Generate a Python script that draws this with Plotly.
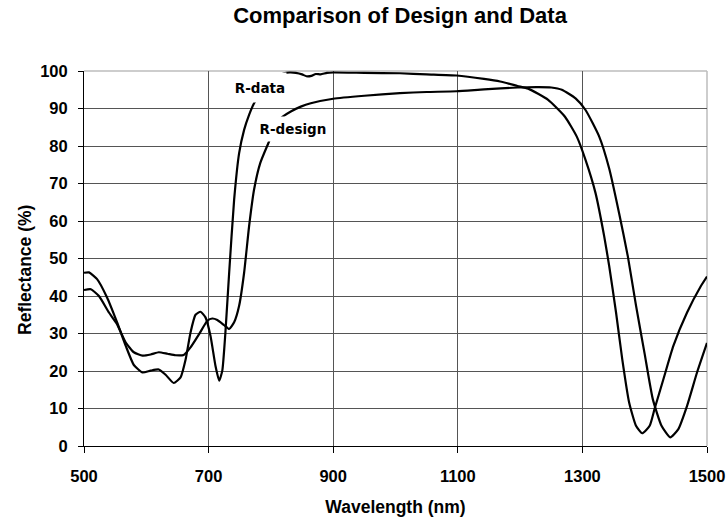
import plotly.graph_objects as go

# ---- data ----
data_wl = [500, 508, 521, 537, 553, 567, 580, 594, 607, 620, 631, 644, 655, 663, 671, 679, 687,
           695, 703, 711, 717, 722, 727, 733, 741, 749, 757, 765, 773, 790, 805, 821, 830, 840,
           850, 857, 865, 872, 880, 890, 900, 950, 1007, 1050, 1098, 1142, 1168, 1196, 1213,
           1245, 1272, 1291, 1305, 1321, 1335, 1343, 1354, 1364, 1375, 1386, 1396, 1408, 1416,
           1430, 1446, 1468, 1490, 1500]
data_r = [46.2, 46.3, 44.5, 39.6, 33.0, 26.7, 21.6, 19.6, 20.1, 20.4, 19.0, 16.8, 18.3, 23.0,
          30.3, 35.0, 35.8, 34.3, 29.4, 21.4, 17.4, 20.1, 30.3, 46.2, 65.7, 78.1, 84.3, 88.3,
          91.4, 95.5, 98.0, 99.4, 99.6, 99.5, 99.1, 98.6, 98.7, 99.2, 99.1, 99.5, 99.6, 99.5,
          99.4, 99.1, 98.8, 97.9, 97.2, 96.0, 95.3, 92.3, 87.8, 82.5, 76.3, 67.5, 55.9, 48.0,
          35.6, 23.1, 11.6, 5.4, 3.4, 5.4, 10.0, 17.8, 26.7, 35.6, 42.6, 45.2]

design_wl = [500, 511, 524, 540, 553, 567, 580, 594, 607, 620, 634, 647, 660, 671, 685, 698, 706,
             714, 725, 733, 741, 749, 757, 765, 773, 783, 797, 806, 816, 832, 848, 864, 900, 950,
             1007, 1050, 1098, 1142, 1196, 1230, 1250, 1267, 1289, 1305, 1327, 1343, 1359, 1373,
             1386, 1400, 1413, 1427, 1441, 1454, 1468, 1484, 1500]
design_r = [41.6, 41.8, 40.0, 35.6, 32.5, 27.6, 25.0, 24.1, 24.4, 25.0, 24.6, 24.2, 24.3, 26.3,
            29.9, 33.4, 34.0, 33.6, 32.2, 31.2, 33.0, 37.4, 46.2, 58.6, 68.4, 75.5, 81.2, 85.0,
            87.4, 89.2, 90.5, 91.4, 92.6, 93.4, 94.1, 94.4, 94.6, 95.1, 95.6, 95.7, 95.6, 95.0,
            92.7, 89.6, 82.5, 74.0, 62.0, 50.5, 37.5, 24.5, 12.5, 5.4, 2.3, 4.5, 10.7, 19.6, 27.5]

x_ticks = [500, 700, 900, 1100, 1300, 1500]
y_ticks = [0, 10, 20, 30, 40, 50, 60, 70, 80, 90, 100]

title_text = "Comparison of Design and Data"
x_title = "Wavelength (nm)"
y_title = "Reflectance (%)"

label_data = ("R-data", 782, 95.5)
label_design = ("R-design", 835, 84.6)

fig = go.Figure()
fig.add_trace(go.Scatter(x=data_wl, y=data_r, mode="lines", name="R-data",
                         line=dict(color="black", width=2.2, shape="spline", smoothing=0.5)))
fig.add_trace(go.Scatter(x=design_wl, y=design_r, mode="lines", name="R-design",
                         line=dict(color="black", width=2.2, shape="spline", smoothing=0.5)))

FAM = "Liberation Sans, Arial, sans-serif"
tickfont = dict(family=FAM, size=16.5, color="black", weight="bold")

fig.update_layout(
    width=726, height=517,
    margin=dict(l=84, r=19, t=71, b=71, autoexpand=False),
    paper_bgcolor="white", plot_bgcolor="white",
    showlegend=False,
    title=dict(text=title_text, x=0.551, xref="container", xanchor="center",
               y=1 - 15 / 517, yref="container", yanchor="middle",
               font=dict(family=FAM, size=22, color="black", weight="bold")),
    xaxis=dict(range=[500, 1500], tickvals=x_ticks, ticktext=[str(v) for v in x_ticks],
               automargin=False,
               showgrid=True, gridcolor="#555555", gridwidth=1,
               showline=True, linecolor="black", linewidth=1,
               ticks="outside", ticklen=6, tickcolor="black", tickwidth=1,
               ticklabelstandoff=9, tickfont=tickfont, zeroline=False,
               title=dict(text=x_title, standoff=16,
                          font=dict(family=FAM, size=17.5, color="black", weight="bold"))),
    yaxis=dict(range=[0, 100], tickvals=y_ticks, ticktext=[str(v) for v in y_ticks],
               automargin=False,
               showgrid=True, gridcolor="#555555", gridwidth=1,
               showline=True, linecolor="black", linewidth=1,
               ticks="outside", ticklen=5, tickcolor="black", tickwidth=1,
               ticklabelstandoff=7, tickfont=tickfont, zeroline=False),
)

# y-axis title (placed slightly below centre, as in the reference)
fig.add_annotation(text=y_title, xref="paper", yref="paper", x=-0.095, y=0.469,
                   xanchor="center", yanchor="middle", textangle=-90, showarrow=False,
                   font=dict(family=FAM, size=17.5, color="black", weight="bold"))

# light top / right frame
fig.add_shape(type="line", xref="paper", yref="paper", x0=0, x1=1, y0=1, y1=1,
              line=dict(color="#bdbdbd", width=1.5), layer="below")
fig.add_shape(type="line", xref="paper", yref="paper", x0=1, x1=1, y0=0, y1=1,
              line=dict(color="#bdbdbd", width=1.5), layer="below")

lab_font = dict(family="DejaVu Sans, sans-serif", size=13.5, color="black", weight="bold")
for text, lx, ly, w, h in [(label_data[0], label_data[1], label_data[2], 52, 29),
                           (label_design[0], label_design[1], label_design[2], 70, 24)]:
    fig.add_annotation(x=lx, y=ly, text=text, showarrow=False, xanchor="center",
                       yanchor="middle", font=lab_font, bgcolor="white", borderpad=0,
                       width=w, height=h)

fig.write_html("out.html")
